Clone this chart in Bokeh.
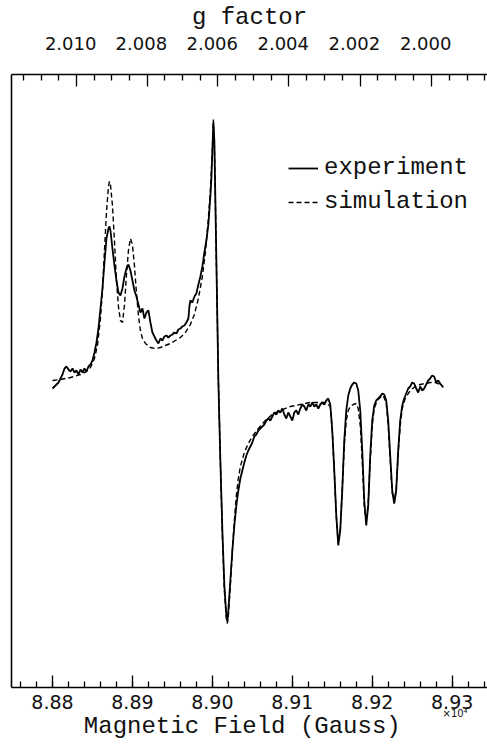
import numpy as np
from bokeh.plotting import figure
from bokeh.models import (LinearAxis, FixedTicker, CustomJSTickFormatter, Label,
                          Legend, LegendItem, Range1d, ColumnDataSource)
from bokeh.embed import file_html
from bokeh.resources import INLINE

# ---------------- data (field in Gauss, signal in arbitrary units) ----------------
exp_field = [88800, 88802.5, 88805, 88807.5, 88810, 88812.5, 88815, 88817.5, 88820, 88822.5,
             88825, 88827.5, 88830, 88832.5, 88835, 88837.5, 88840, 88842.5, 88845, 88847.5,
             88850, 88852.5, 88855, 88857.5, 88860, 88862.5, 88865, 88867.5, 88870, 88871.25,
             88872.5, 88875, 88877.5, 88880, 88882.5, 88885, 88887.5, 88890, 88892.5, 88895,
             88897.5, 88900, 88902.5, 88905, 88907.5, 88910, 88912.5, 88915, 88917.5, 88920,
             88922.5, 88925, 88927.5, 88930, 88932.5, 88935, 88937.5, 88940, 88942.5, 88945,
             88947.5, 88950, 88952.5, 88955, 88957.5, 88960, 88962.5, 88965, 88967.5, 88970,
             88971.25, 88972.5, 88975, 88977.5, 88980, 88982.5, 88985, 88987.5, 88990, 88992.5,
             88995, 88997.5, 88998.75, 89000, 89001.25, 89002.5, 89003.75, 89005, 89006.25, 89007.5,
             89010, 89012.5, 89015, 89017.5, 89018.75, 89020, 89022.5, 89025, 89027.5, 89030,
             89032.5, 89035, 89037.5, 89040, 89042.5, 89045, 89047.5, 89050, 89052.5, 89055,
             89057.5, 89060, 89062.5, 89065, 89067.5, 89070, 89072.5, 89075, 89077.5, 89080,
             89082.5, 89085, 89087.5, 89090, 89092.5, 89095, 89097.5, 89100, 89102.5, 89105,
             89107.5, 89110, 89112.5, 89115, 89117.5, 89120, 89122.5, 89125, 89127.5, 89130,
             89132.5, 89135, 89137.5, 89140, 89142.5, 89145, 89147.5, 89150, 89152.5, 89155,
             89157.5, 89160, 89162.5, 89165, 89167.5, 89170, 89172.5, 89175, 89177.5, 89180,
             89182.5, 89185, 89187.5, 89190, 89192.5, 89195, 89197.5, 89200, 89202.5, 89205,
             89207.5, 89210, 89212.5, 89215, 89217.5, 89220, 89222.5, 89225, 89227.5, 89230,
             89232.5, 89235, 89237.5, 89240, 89242.5, 89245, 89247.5, 89250, 89252.5, 89255,
             89257.5, 89260, 89262.5, 89265, 89267.5, 89270, 89272.5, 89275, 89277.5, 89280,
             89282.5, 89285, 89288.75]
exp_signal = [12, 14, 16, 18, 22, 26, 32, 34, 31, 29,
              32, 28, 30, 26, 31, 28, 32, 29, 34, 36,
              40, 48, 58, 72, 92, 112, 138, 162, 172, 174,
              170, 152, 135, 120, 108, 105, 112, 124, 132, 136,
              130, 120, 110, 104, 96, 88, 92, 82, 88, 90,
              78, 68, 64, 60, 57, 62, 60, 64, 65, 63,
              65, 66, 68, 67, 71, 72, 74, 75, 78, 82,
              94, 100, 98, 104, 107, 116, 124, 134, 148, 160,
              176, 204, 222, 250, 278, 260, 200, 140, 80, 20,
              -60, -130, -185, -215, -221, -210, -180, -150, -125, -105,
              -90, -78, -70, -62, -55, -50, -46, -42, -36, -34,
              -30, -28, -26, -24, -20, -18, -20, -16, -12, -14,
              -10, -12, -8, -14, -18, -12, -16, -20, -12, -10,
              -14, -8, -4, -6, -10, -4, -6, -2, -6, -4,
              -8, -4, -2, -4, 0, 2, -4, -30, -70, -115,
              -145, -130, -90, -40, -10, 5, 12, 16, 18, 17,
              10, -10, -50, -100, -125, -105, -55, -20, -5, 0,
              2, 4, 7, 6, 0, -20, -55, -90, -103, -90,
              -50, -20, -5, 2, 7, 12, 14, 18, 17, 12,
              8, 14, 10, 12, 16, 20, 22, 25, 24, 18,
              20, 17, 13]

sim_field = [88800, 88810, 88822.5, 88835, 88842.5, 88847.5, 88852.5, 88856.25, 88860, 88862.5,
             88865, 88867.5, 88870, 88871.25, 88872.5, 88875, 88877.5, 88880, 88882.5, 88885,
             88887.5, 88890, 88892.5, 88895, 88897.5, 88900, 88902.5, 88905, 88907.5, 88910,
             88912.5, 88916.25, 88922.5, 88928.75, 88935, 88941.25, 88947.5, 88953.75, 88960, 88966.25,
             88972.5, 88977.5, 88982.5, 88987.5, 88991.25, 88995, 88997.5, 89000, 89001.25, 89002.5,
             89003.75, 89005, 89006.25, 89007.5, 89010, 89012.5, 89015, 89017.5, 89018.75, 89020,
             89022.5, 89025, 89027.5, 89030, 89032.5, 89035, 89040, 89045, 89050, 89057.5,
             89066.25, 89075, 89085, 89097.5, 89110, 89122.5, 89135, 89142.5, 89147.5, 89150,
             89152.5, 89155, 89157.5, 89160, 89162.5, 89165, 89167.5, 89170, 89172.5, 89176.25,
             89180, 89182.5, 89185, 89187.5, 89190, 89192.5, 89195, 89197.5, 89200, 89202.5,
             89206.25, 89210, 89213.75, 89217.5, 89220, 89222.5, 89225, 89227.5, 89230, 89232.5,
             89235, 89237.5, 89241.25, 89247.5, 89253.75, 89260, 89266.25, 89272.5, 89278.75, 89285,
             89288.75]
sim_signal = [20, 21, 23, 26, 29, 33, 42, 55, 82, 110,
              150, 188, 214, 219, 216, 195, 160, 120, 94, 80,
              78, 95, 125, 150, 162, 156, 135, 108, 85, 70,
              62, 57, 53, 52, 53, 55, 57, 60, 63, 68,
              76, 86, 102, 124, 148, 182, 210, 250, 281, 255,
              200, 140, 80, 20, -60, -135, -190, -218, -223, -215,
              -185, -150, -120, -95, -78, -66, -52, -43, -36, -28,
              -20, -14, -10, -6, -4, -2, -2, -2, -6, -30,
              -70, -115, -143, -128, -88, -45, -20, -10, -6, -4,
              -3, -8, -25, -60, -105, -122, -102, -60, -25, -8,
              0, 3, 5, -2, -25, -60, -92, -102, -88, -52,
              -25, -8, 2, 10, 14, 16, 17, 18, 18, 16,
              14]

field_ticks = [8.88, 8.89, 8.90, 8.91, 8.92, 8.93]
g_ticks = [2.010, 2.008, 2.006, 2.004, 2.002, 2.000]
g_minor = [2.0115, 2.011, 2.0105, 2.0095, 2.009, 2.0085, 2.0075, 2.007, 2.0065,
           2.0055, 2.005, 2.0045, 2.0035, 2.003, 2.0025, 2.0015, 2.001, 2.0005,
           1.9995, 1.999, 1.9985]
G_TO_FIELD = 17.8548   # g * B (in 1e4 G) at the fixed microwave frequency

# ---------------- figure ----------------
SERIF = "Liberation Mono"
SANS = "DejaVu Sans"

p = figure(width=487, height=744, output_backend="svg", toolbar_location=None,
           x_range=Range1d(8.87487, 8.93442), y_range=Range1d(-287, 326),
           min_border_left=11, min_border_right=0, min_border_top=74, min_border_bottom=57,
           x_axis_location=None, y_axis_location=None)
p.outline_line_color = None
p.grid.visible = False
p.background_fill_color = "white"

src_exp = ColumnDataSource(dict(x=np.array(exp_field) / 1e4, y=exp_signal))
src_sim = ColumnDataSource(dict(x=np.array(sim_field) / 1e4, y=sim_signal))
r_sim = p.line("x", "y", source=src_sim, line_color="black", line_width=1.4, line_dash="5 3")
r_exp = p.line("x", "y", source=src_exp, line_color="black", line_width=1.8)


def style(ax, standoff, size):
    ax.major_tick_in = 12
    ax.major_tick_out = 0
    ax.minor_tick_in = 6
    ax.minor_tick_out = 0
    ax.axis_line_width = 1.6
    ax.major_tick_line_width = 1.3
    ax.minor_tick_line_width = 1.3
    ax.major_label_standoff = standoff
    ax.major_label_text_font = SANS
    ax.major_label_text_font_size = size
    ax.major_label_text_color = "#111111"
    ax.axis_label_text_font = SERIF
    ax.axis_label_text_font_size = "24px"
    ax.axis_label_text_font_style = "normal"
    ax.axis_label_text_color = "#111111"


# bottom axis: ticks and numbers
minor_b = [round(8.876 + 0.002 * i, 3) for i in range(30)]
bax = LinearAxis(ticker=FixedTicker(ticks=field_ticks, minor_ticks=minor_b))
bax.formatter = CustomJSTickFormatter(code="return tick.toFixed(2);")
style(bax, 7, "19px")
p.add_layout(bax, "below")

# exponent marker (sits just under the last tick label)
p.add_layout(Label(x=431, y=9, x_units="screen", y_units="screen", text="×10⁴",
                   text_align="left", text_baseline="middle",
                   text_font=SANS, text_font_size="10px", text_color="#111111"), "below")

# bottom title carried by a bare axis
bt = LinearAxis(ticker=FixedTicker(ticks=[]), axis_label="Magnetic Field (Gauss)\u00a0")
style(bt, 0, "0px")
bt.axis_line_color = None
bt.axis_label_standoff = -10
p.add_layout(bt, "below")

# top axis (g factor)
tax = LinearAxis(ticker=FixedTicker(ticks=[G_TO_FIELD / g for g in g_ticks],
                                    minor_ticks=[G_TO_FIELD / g for g in g_minor]),
                 axis_label="g factor")
tax.formatter = CustomJSTickFormatter(
    code="return (17.8548 / tick).toFixed(3) + '\\u00a0\\u00a0';")
style(tax, 21, "18px")
tax.axis_label_standoff = -1
p.add_layout(tax, "above")

# left border
lax = LinearAxis(ticker=FixedTicker(ticks=[]))
lax.axis_line_width = 1.6
lax.major_label_text_font_size = "0px"
p.add_layout(lax, "left")

legend = Legend(items=[LegendItem(label="experiment", renderers=[r_exp]),
                       LegendItem(label="simulation", renderers=[r_sim])],
                location=(277, 472), orientation="vertical")
legend.background_fill_alpha = 0
legend.border_line_color = None
legend.padding = 0
legend.margin = 0
legend.spacing = 7
legend.glyph_width = 30
legend.glyph_height = 24
legend.label_height = 24
legend.label_standoff = 6
legend.label_text_font = SERIF
legend.label_text_font_size = "24px"
legend.label_text_color = "#111111"
p.add_layout(legend)

open("out.html", "w").write(file_html(p, INLINE))
